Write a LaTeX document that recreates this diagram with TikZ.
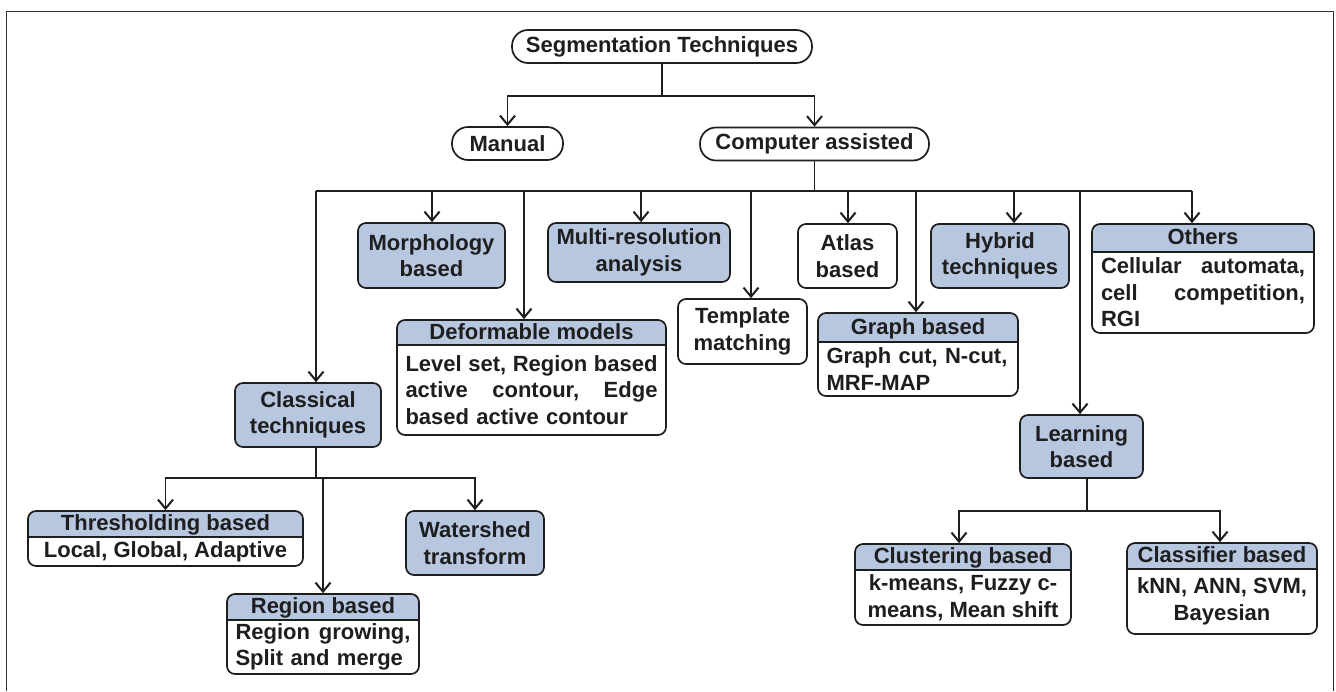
\documentclass[tikz,border=0pt]{standalone}
\usepackage{fontspec}
\usetikzlibrary{arrows.meta,positioning}
\newfontfamily\chartfont{Liberation Sans}
\definecolor{catblue}{RGB}{184,199,224}
\definecolor{inkgray}{RGB}{30,30,30}
\newcommand{\spreadline}[2]{\leavevmode\hbox to #1{#2}}

\tikzset{
  box/.style={draw=inkgray, line width=1.7pt, rounded corners=8pt, inner sep=0pt, align=center,
    font=\chartfont\bfseries\fontsize{22}{26.5}\selectfont, text=inkgray},
  pill/.style={box, rounded corners=16pt, fill=white, minimum height=33pt},
  catbox/.style={box, fill=catblue},
  plainbox/.style={box, fill=white},
  headbox/.style={box, fill=white, path picture={
      \fill[catblue, sharp corners] (path picture bounding box.north west) rectangle ([yshift=-#1]path picture bounding box.north east);
      \draw[inkgray, line width=1.7pt, sharp corners] ([yshift=-#1]path picture bounding box.north west) -- ([yshift=-#1]path picture bounding box.north east);}},
  txt/.style={inner sep=0pt, font=\chartfont\bfseries\fontsize{22}{26.5}\selectfont, text=inkgray},
  headtxt/.style={txt, text height=16pt, text depth=5pt},
  link/.style={draw=inkgray, line width=1.6pt},
  arr/.style={link, -{Straight Barb[length=9pt,width=15pt,line width=2pt]}},
}

\begin{document}
\begin{tikzpicture}[x=1pt, y=-1pt]
  \useasboundingbox (0,0) rectangle (1336,691);
  \draw[line width=1pt, black!80] (6.5,691) -- (6.5,11) -- (1333,11) -- (1333,691);

  \node[pill, minimum width=300pt] (seg) at (662,46.5) {Segmentation Techniques};
  \node[pill, minimum width=111pt] (manual) at (507.5,143.5) {Manual};
  \node[pill, minimum width=229pt] (comp) at (814.5,144) {Computer assisted};

  \node[catbox, minimum width=147pt, minimum height=65pt] (morph) at (431.5,255.5) {Morphology\\based};
  \node[catbox, minimum width=182pt, minimum height=59pt] (multi) at (639,252.5) {Multi-resolution\\analysis};
  \node[plainbox, minimum width=99pt, minimum height=64pt] (atlas) at (847.5,256) {Atlas\\based};
  \node[catbox, minimum width=138pt, minimum height=64pt] (hybrid) at (1000,256) {Hybrid\\techniques};
  \node[plainbox, minimum width=129pt, minimum height=65pt] (templ) at (742.5,331.5) {Template\\matching};
  \node[catbox, minimum width=146pt, minimum height=64pt] (classic) at (308,415) {Classical\\techniques};
  \node[catbox, minimum width=123pt, minimum height=63pt] (learn) at (1081.5,446.5) {Learning\\based};
  \node[catbox, minimum width=138pt, minimum height=64pt] (water) at (475,543) {Watershed\\transform};

  \node[headbox=28pt, minimum width=222pt, minimum height=109pt] (others) at (1203,278.5) {};
  \node[headtxt] (others-h) at (1203,239) {Others};
  \node[txt, text width=204pt, align=left] (others-b) at (1203,292.5)
    {\spreadline{204pt}{Cellular\hfill automata,}\\\spreadline{204pt}{cell\hfill competition,}\\RGI};

  \node[headbox=25pt, minimum width=269pt, minimum height=115pt] (deform) at (531.5,377.5) {};
  \node[headtxt] (deform-h) at (531.5,333.5) {Deformable models};
  \node[txt, text width=252pt, align=left] (deform-b) at (531.5,390)
    {\spreadline{252pt}{Level\hfill set,\hfill Region\hfill based}\\\spreadline{252pt}{active\hfill contour,\hfill Edge}\\based active contour};

  \node[headbox=29pt, minimum width=200pt, minimum height=83pt] (graph) at (918,354.5) {};
  \node[headtxt] (graph-h) at (918,328.5) {Graph based};
  \node[txt, text width=183pt, align=left] (graph-b) at (918,369) {Graph cut, N-cut,\\MRF-MAP};

  \node[headbox=26pt, minimum width=275pt, minimum height=55pt] (thresh) at (165.5,538.5) {};
  \node[headtxt] (thresh-h) at (165.5,525) {Thresholding based};
  \node[headtxt] (thresh-b) at (165.5,551.5) {Local, Global, Adaptive};

  \node[headbox=26pt, minimum width=192pt, minimum height=80pt] (region) at (323,634) {};
  \node[headtxt] (region-h) at (323,608) {Region based};
  \node[txt, text width=175pt, align=left] (region-b) at (323,647)
    {\spreadline{175pt}{Region\hfill growing,}\\Split and merge};

  \node[headbox=26pt, minimum width=216pt, minimum height=81pt] (cluster) at (963,584.5) {};
  \node[headtxt] (cluster-h) at (963,558) {Clustering based};
  \node[txt, align=center] (cluster-b) at (963,597.5) {k-means, Fuzzy c-\\means, Mean shift};

  \node[headbox=26pt, minimum width=190pt, minimum height=91pt] (classif) at (1222,588.5) {};
  \node[headtxt] (classif-h) at (1222,557) {Classifier based};
  \node[txt, align=center] (classif-b) at (1222,601.5) {kNN, ANN, SVM,\\Bayesian};

  \coordinate (tbus) at (662,96);
  \draw[arr] (seg.south) -- (tbus) -| (manual.north);
  \draw[arr] (tbus) -| (comp.north);

  \coordinate (cbus) at (814.5,191);
  \coordinate (cb-classic) at (316,191);
  \coordinate (cb-morph) at (432,191);
  \coordinate (cb-deform) at (524,191);
  \coordinate (cb-multi) at (641,191);
  \coordinate (cb-templ) at (751,191);
  \coordinate (cb-atlas) at (848,191);
  \coordinate (cb-graph) at (916,191);
  \coordinate (cb-hybrid) at (1014,191);
  \coordinate (cb-learn) at (1080,191);
  \coordinate (cb-others) at (1192,191);
  \draw[link] (comp.south) -- (cbus);
  \draw[link] (cb-classic) -- (cb-others);
  \draw[arr] (cb-classic) -- (cb-classic |- classic.north);
  \draw[arr] (cb-morph) -- (cb-morph |- morph.north);
  \draw[arr] (cb-deform) -- (cb-deform |- deform.north);
  \draw[arr] (cb-multi) -- (cb-multi |- multi.north);
  \draw[arr] (cb-templ) -- (cb-templ |- templ.north);
  \draw[arr] (cb-atlas) -- (cb-atlas |- atlas.north);
  \draw[arr] (cb-graph) -- (cb-graph |- graph.north);
  \draw[arr] (cb-hybrid) -- (cb-hybrid |- hybrid.north);
  \draw[arr] (cb-learn) -- (cb-learn |- learn.north);
  \draw[arr] (cb-others) -- (cb-others |- others.north);

  \coordinate (kbus) at (316,478);
  \draw[link] (cb-classic |- classic.south) -- (kbus);
  \draw[arr] (kbus) -| (thresh.north);
  \draw[arr] (kbus) -| (water.north);
  \draw[arr] (kbus) -| (region.north);

  \coordinate (lbus) at (1087,511);
  \draw[link] (lbus |- learn.south) -- (lbus);
  \draw[arr] (lbus) -| ([xshift=-4pt]cluster.north);
  \draw[arr] (lbus) -| ([xshift=-2pt]classif.north);
\end{tikzpicture}
\end{document}
